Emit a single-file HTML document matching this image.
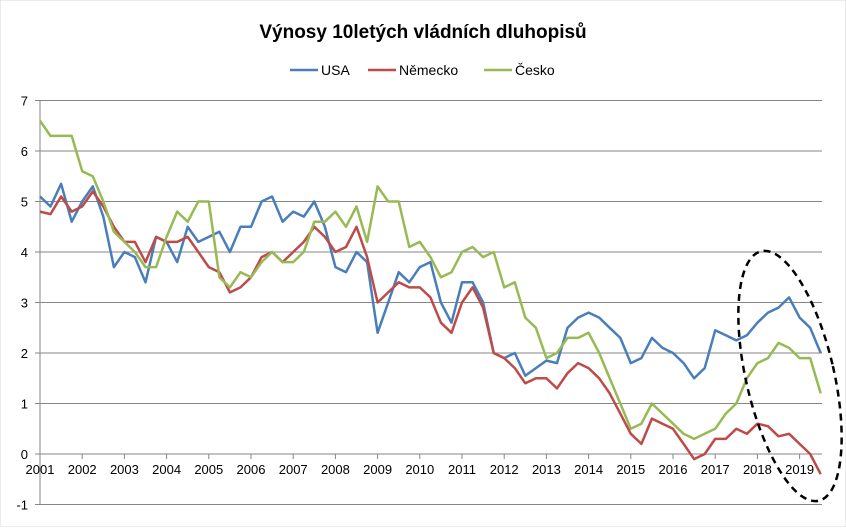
<!DOCTYPE html>
<html><head><meta charset="utf-8"><style>
body{margin:0;background:#fff;font-family:"Liberation Sans",Arial,sans-serif}
svg text{font-family:"Liberation Sans",Arial,sans-serif}
</style></head><body>
<svg id="chart" width="846" height="527" viewBox="0 0 846 527">
<rect x="0" y="0" width="846" height="527" fill="#fff" stroke="#d9d9d9"/>
<text x="423" y="38" text-anchor="middle" font-size="19" font-weight="bold" fill="#000">Výnosy 10letých vládních dluhopisů</text>
<g id="legend"></g>
<g id="grid"></g><g id="axes"></g><g id="series"></g>
<ellipse cx="790" cy="376" rx="44" ry="128" transform="rotate(-13 790 376)" fill="none" stroke="#000" stroke-width="2.5" stroke-dasharray="7,5"/>
</svg>
<script>
const yTicks=[-1,0,1,2,3,4,5,6,7];
const years=[2001,2002,2003,2004,2005,2006,2007,2008,2009,2010,2011,2012,2013,2014,2015,2016,2017,2018,2019];
const startYear=2001, step=0.25;
const seriesNames=["USA","Německo","Česko"];
const usa=[5.1,4.9,5.35,4.6,5.0,5.3,4.7,3.7,4.0,3.9,3.4,4.3,4.2,3.8,4.5,4.2,4.3,4.4,4.0,4.5,4.5,5.0,5.1,4.6,4.8,4.7,5.0,4.5,3.7,3.6,4.0,3.8,2.4,3.0,3.6,3.4,3.7,3.8,3.0,2.6,3.4,3.4,3.0,2.0,1.9,2.0,1.55,1.7,1.85,1.8,2.5,2.7,2.8,2.7,2.5,2.3,1.8,1.9,2.3,2.1,2.0,1.8,1.5,1.7,2.45,2.35,2.25,2.35,2.6,2.8,2.9,3.1,2.7,2.5,2.0];
const germany=[4.8,4.75,5.1,4.8,4.9,5.2,4.9,4.5,4.2,4.2,3.8,4.3,4.2,4.2,4.3,4.0,3.7,3.6,3.2,3.3,3.5,3.9,4.0,3.8,4.0,4.2,4.5,4.3,4.0,4.1,4.5,3.9,3.0,3.2,3.4,3.3,3.3,3.1,2.6,2.4,3.0,3.3,2.9,2.0,1.9,1.7,1.4,1.5,1.5,1.3,1.6,1.8,1.7,1.5,1.2,0.8,0.4,0.2,0.7,0.6,0.5,0.2,-0.1,0.0,0.3,0.3,0.5,0.4,0.6,0.55,0.35,0.4,0.2,0.0,-0.4];
const czech=[6.6,6.3,6.3,6.3,5.6,5.5,5.0,4.4,4.2,4.0,3.7,3.7,4.3,4.8,4.6,5.0,5.0,3.5,3.3,3.6,3.5,3.8,4.0,3.8,3.8,4.0,4.6,4.6,4.8,4.5,4.9,4.2,5.3,5.0,5.0,4.1,4.2,3.9,3.5,3.6,4.0,4.1,3.9,4.0,3.3,3.4,2.7,2.5,1.9,2.0,2.3,2.3,2.4,2.0,1.5,1.0,0.5,0.6,1.0,0.8,0.6,0.4,0.3,0.4,0.5,0.8,1.0,1.5,1.8,1.9,2.2,2.1,1.9,1.9,1.2];
const colors=["#4a7ebb","#be4b48","#98b954"];
const NS="http://www.w3.org/2000/svg";
const L=40,R=822,T=101,B=505;
const xS=t=>L+(t-startYear)*42.2;
const yS=v=>454-v*50.5;
function mk(tag,attrs,parent){const e=document.createElementNS(NS,tag);for(const k in attrs)e.setAttribute(k,attrs[k]);parent.appendChild(e);return e;}
const grid=document.getElementById('grid'),axes=document.getElementById('axes'),ser=document.getElementById('series'),leg=document.getElementById('legend');
yTicks.forEach(v=>{
 const y=yS(v);
 if(v!==0){const g=mk('line',{x1:L,x2:R,y1:y,y2:y,stroke:'#868686','stroke-width':1},grid);
 
 }
 const tk=mk('line',{x1:L-5,x2:L,y1:y,y2:y,stroke:'#868686'},axes);
 
 
 const t=mk('text',{x:L-12,y:y+5,'text-anchor':'end','font-size':13,fill:'#000'},axes);
 t.textContent=v;
 
 
});
const ya=mk('line',{x1:L,x2:L,y1:T,y2:B,stroke:'#868686'},axes);


const xa=mk('line',{x1:L,x2:R,y1:yS(0),y2:yS(0),stroke:'#868686'},axes);


years.forEach(yr=>{
 const x=xS(yr);
 const tk=mk('line',{x1:x,x2:x,y1:yS(0),y2:yS(0)+5,stroke:'#868686'},axes);
 
 
 const t=mk('text',{x:x,y:yS(0)+20,'text-anchor':'middle','font-size':13,fill:'#000'},axes);
 t.textContent=yr;
 
 
});
[usa,germany,czech].forEach((arr,i)=>{
 const d=arr.map((v,j)=>(j?'L':'M')+xS(startYear+j*step).toFixed(1)+','+yS(v).toFixed(1)).join(' ');
 const p=mk('path',{d:d,fill:'none',stroke:colors[i],'stroke-width':2.5,'stroke-linejoin':'round'},ser);
 
 
});
const legX=[290,368,484];
seriesNames.forEach((n,i)=>{
 const ln=mk('line',{x1:legX[i],x2:legX[i]+28,y1:70,y2:70,stroke:colors[i],'stroke-width':2.5},leg);
 
 
 const t=mk('text',{x:legX[i]+31,y:75,'font-size':14,fill:'#000'},leg);
 t.textContent=n;
 
 
});
</script>
</body></html>
